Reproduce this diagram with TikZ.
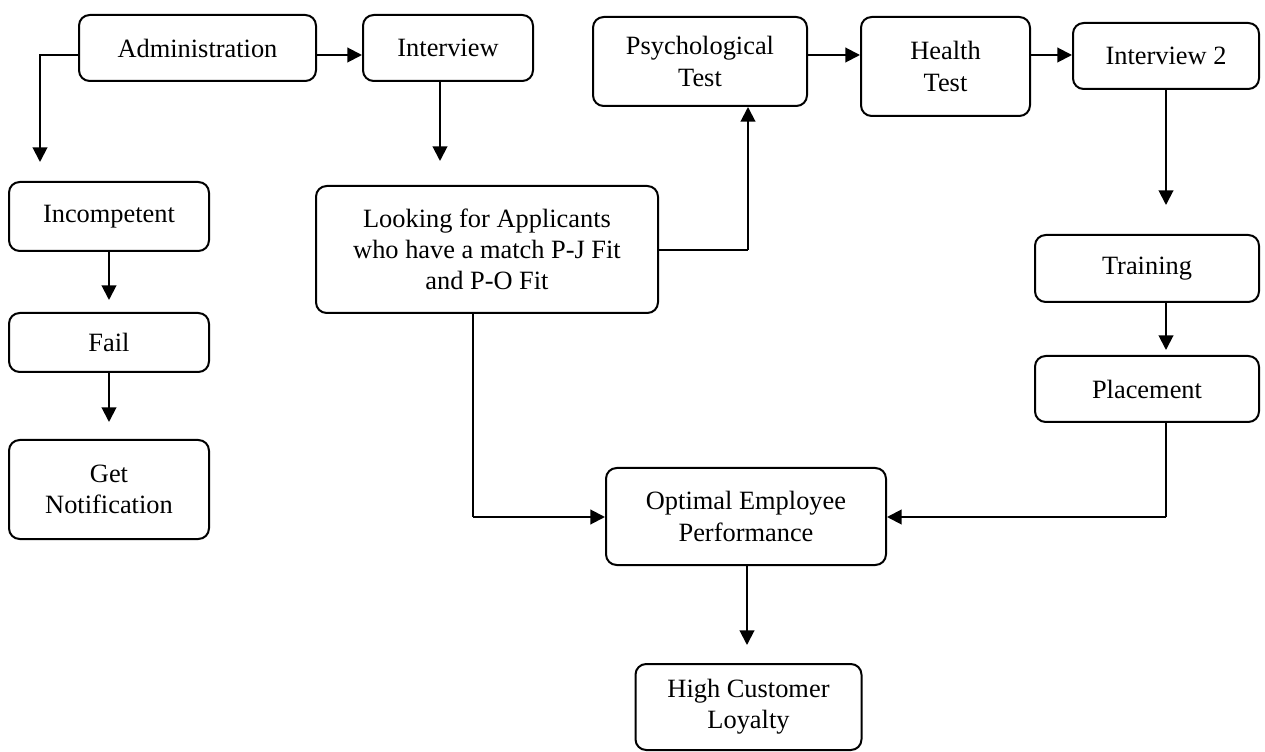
\documentclass[tikz,border=0pt]{standalone}
\usepackage{fontspec}
\setmainfont{Liberation Serif}
\usetikzlibrary{arrows.meta}
\begin{document}
\begin{tikzpicture}[x=0.75pt,y=-0.75pt,
  box/.style 2 args={draw, line width=1.5pt, rounded corners=8pt,
    minimum width=#1*0.75pt, minimum height=#2*0.75pt, align=center,
    inner sep=0pt, font=\fontsize{19.8}{23.3}\selectfont},
  arr/.style={line width=1.5pt, -{Triangle[length=11pt,width=11pt]}},
  thinln/.style={line width=0.8pt}]
\useasboundingbox (0,0) rectangle (1265,752);
% nodes
\node[box={237}{66}] (adm) at (197.5,48) {Administration};
\node[box={170}{66}] (int) at (448,48) {Interview};
\node[box={214}{89}] (psy) at (700,61.5) {Psychological\\Test};
\node[box={169}{99}] (hea) at (945.5,66.5) {Health\\Test};
\node[box={186}{66}] (int2) at (1166,56) {Interview 2};
\node[box={342}{127}] (loo) at (487,249.5) {Looking for Applicants\\who have a match P-J Fit\\and P-O Fit};
\node[box={224}{67}] (tra) at (1147,268.5) {Training};
\node[box={224}{66}] (pla) at (1147,389) {Placement};
\node[box={200}{69}] (inc) at (109,216.5) {Incompetent};
\node[box={200}{59}] (fail) at (109,342.5) {Fail};
\node[box={200}{99}] (get) at (109,489.5) {Get\\Notification};
\node[box={280}{97}] (opt) at (746,516.5) {Optimal Employee\\Performance};
\node[box={226}{86}] (hig) at (748.5,707) {High Customer\\Loyalty};
% helper coordinates
\coordinate (y55) at (0,55);
\coordinate (a1) at (40,162);
\coordinate (i1) at (440,161);
\coordinate (f1) at (109,300);
\coordinate (g1) at (109,422);
\coordinate (p1) at (748,250);
\coordinate (t1) at (1166,205);
\coordinate (t2) at (1166,350);
\coordinate (o1) at (473,517);
\coordinate (o2) at (1166,517);
\coordinate (h1) at (747,645);
% connectors
\draw[arr] (adm.west |- y55) -| (a1);
\draw[arr] (adm.east |- y55) -- (int.west |- y55);
\draw[arr] (int.south -| i1) -- (i1);
\draw[arr] (inc.south) -- (f1);
\draw[arr] (fail.south) -- (g1);
\draw[thinln] (loo.east |- p1) -- (p1);
\draw[arr] (p1) -- (p1 |- psy.south);
\draw[arr] (psy.east |- y55) -- (hea.west |- y55);
\draw[arr] (hea.east |- y55) -- (int2.west |- y55);
\draw[arr] (int2.south) -- (t1);
\draw[arr] (tra.south -| t2) -- (t2);
\draw[thinln] (loo.south -| o1) -- (o1);
\draw[arr] (o1) -- (opt.west |- o1);
\draw[thinln] (pla.south -| o2) -- (o2);
\draw[arr] (o2) -- (opt.east |- o2);
\draw[arr] (opt.south -| h1) -- (h1);
\end{tikzpicture}
\end{document}
